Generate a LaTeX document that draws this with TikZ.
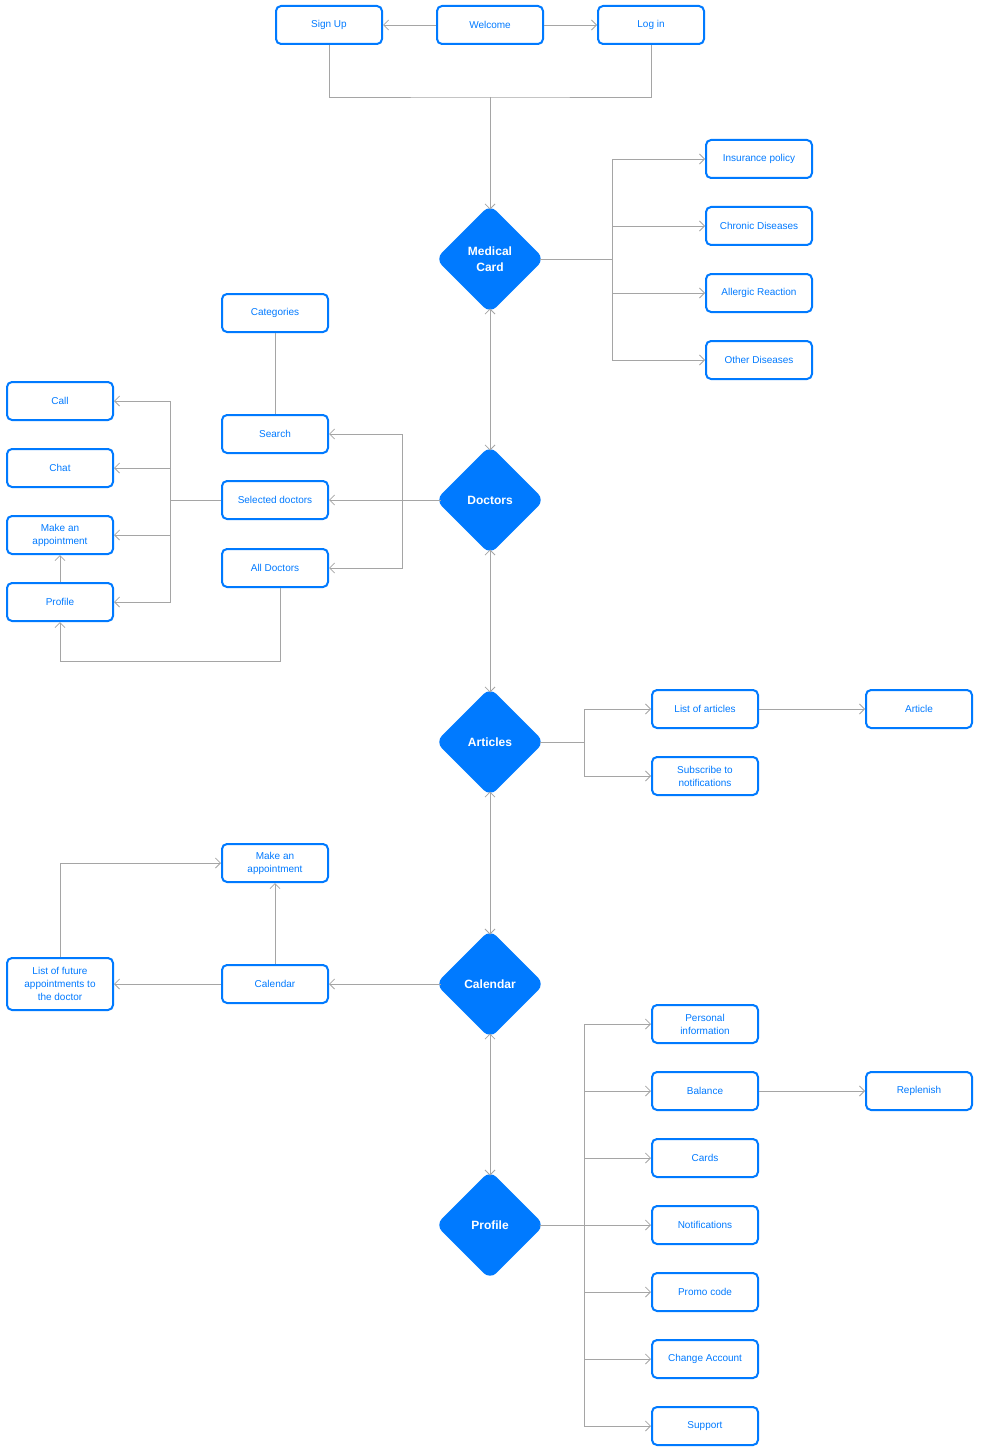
\documentclass[tikz,border=0pt]{standalone}
\usepackage{fontspec}
\setmainfont{Liberation Sans}
\usetikzlibrary{arrows.meta,positioning,shapes.geometric,calc}
\definecolor{appblue}{RGB}{0,122,255}
\definecolor{wiregray}{RGB}{165,165,165}
\tikzset{
  screen/.style={draw=appblue,line width=2pt,rounded corners=5pt,fill=white,
    minimum width=106pt,minimum height=38pt,inner xsep=4pt,inner ysep=3pt,
    align=center,text=appblue,font=\fontsize{10}{13}\selectfont},
  hub/.style={diamond,fill=appblue,rounded corners=9pt,
    minimum width=106pt,minimum height=106pt,inner sep=0pt,outer sep=-3.5pt,
    align=center,text=white,font=\bfseries\fontsize{12}{16}\selectfont},
  wire/.style={draw=wiregray,line width=0.8pt},
  flow/.style={wire,-{Straight Barb[length=5pt,width=10pt]}},
  twoway/.style={wire,{Straight Barb[length=5pt,width=10pt]}-{Straight Barb[length=5pt,width=10pt]}},
}
\begin{document}
\begin{tikzpicture}[x=1pt,y=-1pt]
  \useasboundingbox (0,0) rectangle (980,1455);

  % entry screens
  \node[screen] (signup)  at (329,25) {Sign Up};
  \node[screen] (welcome) at (490,25) {Welcome};
  \node[screen] (login)   at (651,25) {Log in};

  % main sections
  \node[hub] (medcard)  at (490,259)  {Medical\\Card};
  \node[hub] (doctors)  at (490,500)  {Doctors};
  \node[hub] (articles) at (490,742)  {Articles};
  \node[hub] (calendar) at (490,984)  {Calendar};
  \node[hub] (profile)  at (490,1225) {Profile};

  % medical card
  \node[screen] (insurance) at (759,159) {Insurance policy};
  \node[screen] (chronic)   at (759,226) {Chronic Diseases};
  \node[screen] (allergic)  at (759,293) {Allergic Reaction};
  \node[screen] (other)     at (759,360) {Other Diseases};

  % doctors
  \node[screen] (categories) at (275,313) {Categories};
  \node[screen] (search)     at (275,434) {Search};
  \node[screen] (selected)   at (275,500) {Selected doctors};
  \node[screen] (alldocs)    at (275,568) {All Doctors};
  \node[screen] (call)       at (60,401)  {Call};
  \node[screen] (chat)       at (60,468)  {Chat};
  \node[screen] (docappt)    at (60,535)  {Make an\\appointment};
  \node[screen] (docprofile) at (60,602)  {Profile};

  % articles
  \node[screen] (listart)   at (705,709) {List of articles};
  \node[screen] (article)   at (919,709) {Article};
  \node[screen] (subscribe) at (705,776) {Subscribe to\\notifications};

  % calendar
  \node[screen] (calappt) at (275,863) {Make an\\appointment};
  \node[screen] (calbox)  at (275,984) {Calendar};
  \node[screen,minimum height=52pt] (future) at (60,984)
    {List of future\\appointments to\\the doctor};

  % profile
  \foreach \n/\t [count=\i from 0] in {personal/{Personal\\information},
      balance/Balance, cards/Cards, notif/Notifications,
      promo/Promo code, account/Change Account, support/Support}
    \node[screen] (\n) at (705,1024+67*\i) {\t};
  \node[screen] (replenish) at (919,1091) {Replenish};

  % junctions
  \coordinate (join)   at (490,97);
  \coordinate (mcbus)  at (612,259);
  \coordinate (docbus) at (402,500);
  \coordinate (selbus) at (170,500);
  \coordinate (loop)   at (60,661);
  \coordinate (artbus) at (584,742);
  \coordinate (probus) at (584,1225);

  % entry
  \draw[flow] (welcome) -- (signup);
  \draw[flow] (welcome) -- (login);
  \draw[wire] (signup.south) |- (join) -| (login.south);
  \draw[flow] (join) -- (medcard.north);

  % spine
  \draw[twoway] (medcard.south)  -- (doctors.north);
  \draw[twoway] (doctors.south)  -- (articles.north);
  \draw[twoway] (articles.south) -- (calendar.north);
  \draw[twoway] (calendar.south) -- (profile.north);

  % medical card
  \foreach \n in {insurance,chronic,allergic,other}
    \draw[flow] (medcard.east) -- (mcbus) |- (\n.west);

  % doctors
  \draw[flow] (doctors.west) -- (selected.east);
  \draw[flow] (docbus) |- (search.east);
  \draw[flow] (docbus) |- (alldocs.east);
  \draw[wire] (categories) -- (search);
  \foreach \n in {call,chat,docappt,docprofile}
    \draw[flow] (selected.west) -- (selbus) |- (\n.east);
  \draw[flow] (docprofile) -- (docappt);
  \draw[flow] ([xshift=5pt]alldocs.south) |- (loop) -- (docprofile.south);

  % articles
  \foreach \n in {listart,subscribe}
    \draw[flow] (articles.east) -- (artbus) |- (\n.west);
  \draw[flow] (listart) -- (article);

  % calendar
  \draw[flow] (calendar.west) -- (calbox.east);
  \draw[flow] (calbox) -- (calappt);
  \draw[flow] (calbox) -- (future);
  \draw[flow] (future.north) |- (calappt.west);

  % profile
  \foreach \n in {personal,balance,cards,notif,promo,account,support}
    \draw[flow] (profile.east) -- (probus) |- (\n.west);
  \draw[flow] (balance) -- (replenish);
\end{tikzpicture}
\end{document}
